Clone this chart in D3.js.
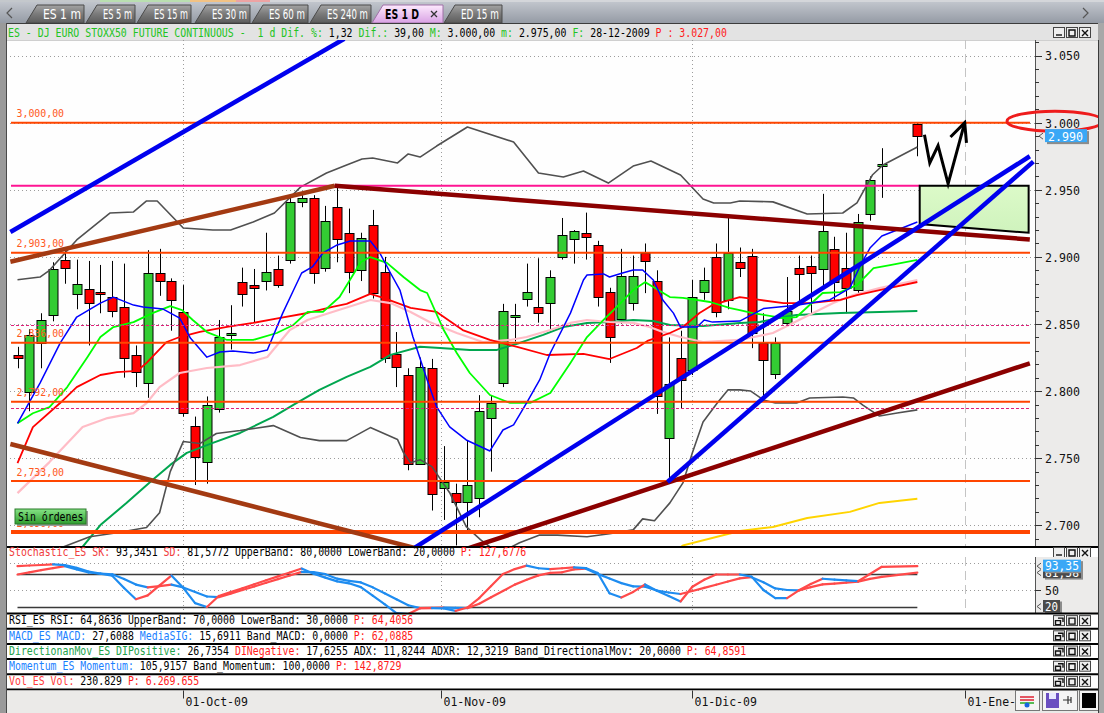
<!DOCTYPE html>
<html><head><meta charset="utf-8">
<script src="https://d3js.org/d3.v7.min.js"></script>
<style>html,body{margin:0;padding:0;background:#fff;overflow:hidden}svg{display:block}text{white-space:pre}</style>
</head><body>
<svg id="chart" width="1104" height="713"></svg>
<script>
// ================= DATA =================
// slot = weekday index (0 = 11-Sep-2009); slots 74,75 = holidays (no bars)
const candleSlot=[0,1,2,3,4,5,6,7,8,9,10,11,12,13,14,15,16,17,18,19,20,21,22,23,24,25,26,27,28,29,30,31,32,33,34,35,36,37,38,39,40,41,42,43,44,45,46,47,48,49,50,51,52,53,54,55,56,57,58,59,60,61,62,63,64,65,66,67,68,69,70,71,72,73,76];
const candleOpen =[2827,2799,2836,2857,2898,2872,2876,2874,2870,2863,2827,2806,2888,2882,2859,2774,2747,2787,2842,2881,2879,2882,2891,2898,2941,2944,2892,2937,2918,2890,2924,2889,2828,2812,2746,2817,2728,2724,2717,2720,2780,2806,2856,2869,2863,2866,2900,2913,2918,2909,2874,2854,2866,2903,2882,2765,2825,2816,2874,2900,2868,2896,2901,2836,2813,2851,2892,2893,2891,2906,2892,2875,2932,2968,2999];
const candleHigh =[2833,2846,2858,2896,2905,2898,2897,2894,2897,2895,2834,2905,2906,2884,2879,2781,2796,2853,2864,2892,2891,2918,2901,2944,2946,2946,2938,2952,2936,2918,2935,2900,2844,2817,2825,2824,2759,2731,2763,2797,2797,2865,2865,2895,2899,2890,2929,2920,2933,2912,2877,2906,2901,2910,2890,2840,2845,2883,2892,2910,2929,2907,2906,2858,2840,2885,2901,2901,2947,2915,2918,2932,2960,2981,3000];
const candleLow  =[2817,2785,2817,2852,2880,2861,2834,2858,2855,2810,2803,2795,2871,2845,2781,2730,2731,2784,2831,2863,2851,2875,2877,2895,2937,2880,2889,2896,2873,2882,2869,2821,2803,2741,2745,2711,2704,2685,2694,2706,2740,2803,2837,2863,2851,2845,2898,2895,2898,2863,2821,2850,2860,2873,2783,2732,2787,2812,2868,2855,2861,2885,2832,2792,2809,2849,2866,2858,2876,2867,2858,2872,2927,2944,2975];
const candleClose=[2825,2842,2853,2891,2892,2880,2866,2873,2860,2825,2814,2888,2882,2868,2784,2751,2790,2840,2843,2872,2877,2889,2879,2941,2944,2888,2927,2913,2889,2914,2873,2825,2818,2746,2818,2723,2732,2717,2730,2785,2791,2860,2857,2874,2858,2885,2916,2919,2915,2870,2840,2886,2886,2897,2796,2805,2808,2870,2883,2859,2903,2892,2843,2823,2836,2860,2887,2888,2919,2881,2877,2926,2957,2969,2990];

// Indicators on price panel: [slot, price]
const bollUpper=[[0,2883],[1.9,2885],[2.7,2890],[5,2912.6],[7.8,2932.7],[9.8,2933.5],[10.9,2941.7],[11.8,2941.7],[14,2921.5],[16.5,2920],[18,2920],[19.9,2926],[21.7,2932.7],[23.9,2952],[26.1,2962.5],[27.8,2968.5],[29.1,2973],[30,2973.7],[32.1,2970],[33,2976.7],[34,2974.4],[35.4,2982.6],[38,2996.8],[41.9,2985.6],[44,2962.5],[46.1,2959.5],[47.8,2964],[49.9,2955],[52,2967.7],[53.5,2971.5],[56,2961],[57.9,2943.1],[58.8,2940.2],[60.2,2940.2],[61,2941.7],[63.8,2941],[66.7,2932],[69.7,2932.7],[70.9,2940.2],[72.2,2961],[73.1,2968.5],[76,2981.9]];
const bollLower=[[2.5,2672],[3.9,2684],[6.1,2691.5],[8.4,2694.5],[10.9,2698.3],[12,2709.4],[12.9,2740],[14,2762.4],[15.4,2760.9],[16.8,2768.4],[18.8,2770.6],[21.6,2774.3],[23.9,2765.4],[25.5,2763.1],[27.8,2763.1],[29.8,2772.8],[32.1,2763.9],[32.6,2754.2],[33.2,2746.6],[34,2748.9],[35,2743.7],[36.5,2724.3],[37.9,2699],[39.1,2689.3],[39.9,2684],[41.3,2682],[42.4,2687],[44.1,2692.7],[45.6,2692.7],[48.1,2691.5],[50,2693.7],[52,2696.6],[52.8,2704.8],[53.8,2703.4],[55.1,2716.7],[56.2,2731.6],[57,2754],[57.9,2777],[59.1,2791.2],[60,2800.9],[61,2800.9],[61.9,2800.1],[63,2793.4],[64,2791.2],[65.8,2791.2],[66.9,2794.9],[69.7,2795.6],[70.6,2794.9],[71.4,2789.6],[72.8,2781.4],[74.3,2783.7],[76,2786]];
const maBlue=[[0,2776],[1.9,2806],[3.6,2835.8],[5,2855.2],[7,2865.6],[8.1,2870],[9.8,2864.1],[10.6,2862.6],[12.3,2861.1],[13.7,2854.4],[14.6,2839.5],[16,2825.3],[17.1,2829.1],[18.2,2829.8],[19.9,2828.3],[21.1,2830.6],[22.4,2858.1],[23.4,2876.8],[24,2888],[24.9,2892.5],[25.8,2902.9],[27,2908.9],[28.1,2911.8],[29.8,2911.8],[30.6,2902.9],[31.5,2888],[32.3,2875.3],[33.4,2840.3],[34.6,2808.3],[35.4,2788.2],[36.5,2773.3],[37.9,2763.6],[39.9,2755.4],[41,2771],[41.9,2774.8],[43,2791.2],[44.1,2808.3],[45,2828.4],[46.7,2858.1],[47.8,2882.8],[48.1,2886.5],[49.5,2887.3],[50,2885],[51.1,2888],[52,2890.2],[52.8,2890.2],[53.7,2882.8],[54.5,2867.9],[55.4,2858.1],[56,2847.7],[57.4,2847.7],[58,2853],[58.7,2851.4],[61,2852.2],[63,2861.5],[65.8,2864],[68.6,2867.9],[70.3,2876.8],[71.2,2893.9],[72,2906.6],[73,2915.6],[76,2926]];
const maGreen=[[0,2776],[1.3,2783.5],[2.7,2788],[4.2,2803],[5.9,2825.3],[7,2840.3],[8.1,2847.7],[9.8,2851.4],[11.4,2858.1],[12.9,2863.3],[13.9,2860.4],[14.8,2853],[16,2844],[17.7,2838.1],[19.9,2838.1],[21.9,2843.3],[23.3,2849.3],[24.5,2859],[25.8,2859],[27.2,2870.1],[29,2896.2],[29.8,2899.9],[31.2,2895.5],[32.6,2885],[34,2875.3],[34.6,2873.1],[36,2845.5],[37.1,2828.4],[38.2,2813.5],[39.9,2797.1],[41.6,2791.2],[43.3,2791.2],[45,2798.6],[46.7,2821],[48.1,2840.3],[49.5,2853],[50.6,2862.6],[52,2875.3],[53,2881.2],[53.7,2877.5],[55.1,2870.1],[56.2,2869.4],[58.5,2866.4],[60.2,2861.9],[61,2860.4],[62.1,2858.1],[64.7,2854.4],[65.8,2855.2],[68,2873.1],[69.5,2873.8],[70.9,2879],[72.3,2891.7],[73.7,2893.9],[76,2897.7]];
const maRed=[[0,2746.3],[1.3,2773.2],[3.6,2791.1],[5,2803],[7,2812],[8.4,2814.2],[10.1,2815],[10.9,2821],[12.6,2836.6],[13.7,2840.3],[15.4,2844.1],[17.7,2847.8],[19.9,2850.8],[22.2,2854.5],[24.5,2858.2],[26.6,2862.7],[27.8,2865],[29.8,2872.4],[30.9,2869.4],[33.2,2862],[35.4,2859],[37.6,2845.5],[39.9,2838.1],[42.2,2832.9],[44.7,2826.9],[47.8,2827.7],[50,2823.9],[52.3,2832.1],[53.2,2837.4],[55.1,2843.3],[56.2,2847.8],[57.6,2858.2],[58.7,2864.2],[61,2870.1],[62.7,2867.9],[64.7,2865.6],[66.9,2865.6],[69.5,2867.9],[70.9,2871.6],[72.8,2875.3],[76,2881.3]];
const maPink=[[0,2724],[2.7,2747.1],[5.5,2773.2],[7.6,2779.9],[9.8,2783.6],[10.9,2791.1],[12,2803],[13.7,2813.5],[16,2817.2],[18.8,2819.4],[21.1,2825.4],[23,2845.5],[24.5,2853],[26.6,2859],[29.8,2867.9],[31.5,2865.6],[33.2,2859],[34.8,2851.5],[37.1,2843.3],[39.3,2836.6],[41.6,2838.1],[43,2840.3],[45,2845.5],[46.7,2850.8],[48.1,2853],[50,2851.5],[52,2850.8],[53.4,2847.8],[54.5,2844.1],[56,2840.3],[57.9,2836.6],[61,2838.1],[63.8,2843.3],[65.5,2850.8],[67.2,2858.2],[68.9,2865.6],[70.6,2871.6],[72.8,2876.8],[76,2882.8]];
const maDarkGreen=[[5,2680],[5.5,2684],[7,2700.2],[9.2,2716.6],[11.4,2733.8],[12.9,2745],[14.3,2754],[16.5,2761.4],[18.8,2768.8],[21.6,2780.8],[23.3,2789.7],[25.5,2800.9],[27.8,2810.6],[29.8,2818.1],[31.5,2827],[34,2833],[35.7,2832.2],[38.2,2830.7],[40.5,2830.7],[42.4,2835.9],[44.4,2841.9],[46.1,2847.8],[48.1,2850.8],[50,2851.5],[52,2853],[53.7,2852.3],[55.1,2849.3],[57.9,2848.5],[61,2850.8],[62.7,2851.5],[64.7,2855.2],[65.8,2856.7],[69.5,2858.2],[72.8,2859],[76,2859.7]];
const maYellow=[[55.5,2680],[56.2,2685],[61,2695.8],[63.8,2698.8],[66.7,2705.5],[70.3,2710],[72.8,2716.7],[76,2719.7]];

// Stochastic per slot (null = holiday)
const stochK=[93.5,94.5,95.5,96.5,95.3,90.4,83.5,79.7,75.9,53.7,33.3,40.2,58.3,76.3,53.9,26.1,19.1,39.1,46.2,53.3,60.4,67.6,74.7,81.8,89,79.7,72.5,65.6,62.2,55.2,39.9,24.4,7.8,6.2,17,17,16.6,12.1,18.2,35.3,57.1,79,88,94.3,89.5,88,89.5,91,89.8,81,44,36.5,46.5,60,48.8,39,29.2,56,68.7,78.2,78.2,78.2,74.3,50,35.3,35.3,49.4,61,70.5,69,67.5,66,79,92.2,null,null,93.3];
const stochD=[78.2,82,86,89.7,93.5,87.5,81.8,79.6,78.5,70,59.8,54.7,57.2,59.8,54.7,46.5,38.2,37,43.5,49.9,56.4,63.1,69.7,76.3,83,82.6,78.8,70.6,66.7,63.8,54.8,43.9,33,22.2,17,17.6,18.2,17.6,17.1,25.1,36.7,48.3,59.8,68.5,76.6,81.2,82.2,87.4,88.8,79.3,70.8,62.5,56.7,56,49,45.4,42.7,48.2,53.9,59.6,65.4,71.1,73.3,64.1,52.8,50,49.4,55.2,60.1,61.7,63.3,65.2,70.3,73.9,null,null,81.6];
const stochBands=[80,20];
const stochLast={k:93.35,d:81.58};

// Horizontal levels drawn by the user
const levelPrices=[3000,2903,2836,2792,2733,2695];
const levelLabels=["3,000,00","2,903,00","2,836,00","2,792,00","2,733,00","2,696,00"];
const levelWidths=[2,2,2,2,2,4];
const pinkLevel=2953;            // solid magenta, ends at slot 76.2
const pinkDashed=[2849.3,2787.2,2684.8];

// Trend lines [slot, price]
const trendBlue=[[[-0.6,2918.6],[27.6,3062.5]],[[33.5,2683],[85.5,2975]],[[54.9,2732.3],[85.8,2971]]];
const trendBrown=[[[-0.6,2896.4],[26.8,2953]],[[-0.6,2760.6],[35.8,2678]]];
const trendMaroon=[[[26.8,2953],[85.5,2913]],[[37.5,2681.2],[85.5,2820.7]]];
const targetBox=[[76.2,2953],[85.4,2953],[85.4,2918],[76.2,2924.5]];
const scenarioPath=[[76.6,2991],[77.05,2970],[77.75,2983],[78.6,2954.5],[80.0,3000]];
const scenarioHead=[[78.8,2989.3],[80.0,3000],[80.15,2985]];

// Axes
const priceTicks=[2700,2750,2800,2850,2900,2950,3000,3050];
const lastClose=2990;
const dateSlots=[14,35.77,57,80];
const dateLabels=["01-Oct-09","01-Nov-09","01-Dic-09","01-Ene-10"];
const tabNames=["ES 1 m","ES 5 m","ES 15 m","ES 30 m","ES 60 m","ES 240 m","ES 1 D","ED 15 m"];

// ================= DRAW =================
const svg=d3.select('#chart');
const defs=svg.append('defs');
function lg(id,stops){const g=defs.append('linearGradient').attr('id',id).attr('x1',0).attr('y1',0).attr('x2',0).attr('y2',1);stops.forEach(s=>g.append('stop').attr('offset',s[0]).attr('stop-color',s[1]));}
lg('tabBar',[[0,'#c5c9d0'],[1,'#959ba5']]);
lg('tabG',[[0,'#a4a4a4'],[0.5,'#7a7a7a'],[1,'#5c5c5c']]);
lg('tabA',[[0,'#fdeafd'],[1,'#d9a2e4']]);
lg('btnG',[[0,'#86e486'],[1,'#2f9d2f']]);
lg('boxG',[[0,'#dcfac8'],[1,'#cff3bd']]);

function fitText(parent,x0,yb,segs,width,opt){
  opt=opt||{};
  const t=parent.append('text').attr('x',0).attr('y',0)
    .attr('font-family',opt.family||'DejaVu Sans Mono').attr('font-size',opt.size||12)
    .style('white-space','pre');
  if(opt.weight)t.attr('font-weight',opt.weight);
  segs.forEach(s=>t.append('tspan').attr('fill',s[1]).text(s[0]));
  const w=t.node().getComputedTextLength()||1;
  const sx=width?width/w:1;
  t.attr('transform','translate('+x0+','+yb+') scale('+sx+',1)');
  return t;
}
function mono(parent,x0,yb,segs,cw,size){const n=segs.reduce((a,s)=>a+s[0].length,0);return fitText(parent,x0,yb,segs,n*cw,{size:size||12});}

svg.append('rect').attr('width',1104).attr('height',713).attr('fill','#ffffff');

// ---- scales
const x=d3.scaleLinear().domain([0,80]).range([17.5,17.5+80*11.84]);
const y=d3.scaleLinear().domain([2700,3000]).range([525.3,122.7]);
const yS=d3.scaleLinear().domain([20,80]).range([606.5,573.5]);
const PL=8,PR=1035,PT=40,PB=546;

// ---- tab bar
svg.append('rect').attr('x',0).attr('y',0).attr('width',1104).attr('height',23).attr('fill','url(#tabBar)');
[[0,100,'#c4c8cc'],[100,190,'#b9dfb0'],[190,236,'#f2c284'],[236,270,'#eda3a3'],[270,1104,'#d4d6da']].forEach(s=>svg.append('rect').attr('x',s[0]).attr('y',0).attr('width',s[1]-s[0]).attr('height',2).attr('fill',s[2]));
svg.append('path').attr('d','M12,8 L7,13 L12,18').attr('fill','none').attr('stroke','#555').attr('stroke-width',1.2);
svg.append('path').attr('d','M1083,8 L1088,13 L1083,18').attr('fill','none').attr('stroke','#555').attr('stroke-width',1.2);
const tabX=[[26,84],[86,135],[137,191],[195,250],[252,308],[310,371],[372,443],[444,502]];
tabNames.forEach((n,i)=>{
  const a=tabX[i][0],b=tabX[i][1],act=(n==='ES 1 D');
  svg.append('path').attr('d',`M${a},23 L${a+11},5 L${b},5 L${b},23 Z`).attr('fill',act?'url(#tabA)':'url(#tabG)').attr('stroke',act?'#a070a8':'#4a4a4a').attr('stroke-width',1);
  const w=act?34:(b-a-20);
  fitText(svg,a+(act?13:17),18.5,[[n,act?'#000':'#fff']],w,{family:'DejaVu Sans',size:13.5,weight:act?'bold':'normal'});
  if(act){svg.append('path').attr('d','M431,11 L437,17 M437,11 L431,17').attr('stroke','#333').attr('stroke-width',1.3);}
});

// ---- header row
svg.append('rect').attr('x',0).attr('y',23).attr('width',1104).attr('height',17).attr('fill','#e3e3e3');
svg.append('line').attr('x1',0).attr('x2',1104).attr('y1',23.5).attr('y2',23.5).attr('stroke','#3c3c3c');
const G='#22c322',K='#000',R='#ff1a1a',B='#1a7fff';
mono(svg,8,37,[["ES - DJ EURO STOXX50 FUTURE CONTINUOUS -  1 d Dif. %: ",G],["1,32 ",K],["Dif.: ",G],["39,00 ",K],["M: ",G],["3.000,00 ",K],["m: ",G],["2.975,00 ",K],["F: ",G],["28-12-2009 ",K],["P : 3.027,00",R]],5.95,12.5);

function winBtns(yc,kind){
  [1053,1066,1079].forEach((bx,i)=>{
    svg.append('rect').attr('x',bx+0.5).attr('y',yc-5.5).attr('width',11).attr('height',10).attr('fill','#eeeeee').attr('stroke','#444');
    let d;
    if(i===0) d= kind==='min'?`M${bx+3},${yc+2} h6`:`M${bx+5},${yc-3} h5 v4 M${bx+2.5},${yc-0.5} h5 v4 h-5 z`;
    else if(i===1) d=`M${bx+3},${yc-3} h6 v6 h-6 z`;
    else d=`M${bx+3},${yc-3} L${bx+9},${yc+3} M${bx+9},${yc-3} L${bx+3},${yc+3}`;
    svg.append('path').attr('d',d).attr('fill','none').attr('stroke','#111').attr('stroke-width',1.4);
  });
}
winBtns(33,'min');

// ---- main panel
svg.append('rect').attr('x',6).attr('y',PT).attr('width',PR-6).attr('height',PB-PT).attr('fill','#fefefe');
svg.append('rect').attr('x',PR).attr('y',PT).attr('width',1098-PR).attr('height',PB-PT).attr('fill','#ecebea');
svg.append('line').attr('x1',6).attr('x2',1098).attr('y1',PT+0.5).attr('y2',PT+0.5).attr('stroke','#cfcfcf');
defs.append('clipPath').attr('id','clipMain').append('rect').attr('x',PL).attr('y',PT).attr('width',PR-PL).attr('height',PB-PT);
const gM=svg.append('g').attr('clip-path','url(#clipMain)');

priceTicks.forEach(v=>gM.append('line').attr('x1',10).attr('x2',PR).attr('y1',Math.round(y(v))+0.5).attr('y2',Math.round(y(v))+0.5).attr('stroke','#9c9c9c').attr('stroke-dasharray','1,3'));
dateSlots.forEach((s,i)=>gM.append('line').attr('x1',Math.round(x(s))+0.5).attr('x2',Math.round(x(s))+0.5).attr('y1',PT).attr('y2',PB)
  .attr('stroke',i===3?'#c4c4c4':'#9c9c9c').attr('stroke-dasharray',i===3?'9,5':'1,3'));

// candles
candleSlot.forEach((s,i)=>{
  const o=candleOpen[i],c=candleClose[i],h=candleHigh[i],l=candleLow[i];
  const cx=Math.round(x(s))+0.5;
  gM.append('line').attr('x1',cx).attr('x2',cx).attr('y1',y(h)).attr('y2',y(l)).attr('stroke','#000').attr('stroke-width',1);
  const top=Math.round(y(Math.max(o,c)))+0.5,bot=Math.round(y(Math.min(o,c)))+0.5;
  gM.append('rect').attr('x',cx-4.5).attr('y',top).attr('width',9).attr('height',Math.max(2,bot-top))
    .attr('fill',c>=o?'#33cc33':'#ff0000').attr('stroke','#000').attr('stroke-width',1);
});

// indicator lines
const ln=d3.line().x(d=>x(d[0])).y(d=>y(d[1]));
function drawSeries(data,color,w){gM.append('path').attr('d',ln(data)).attr('fill','none').attr('stroke',color).attr('stroke-width',w).attr('stroke-linejoin','round');}
drawSeries(maYellow,'#ffd400',2);
drawSeries(maDarkGreen,'#00a64f',2);
drawSeries(maPink,'#ffbcc6',2.2);
drawSeries(maRed,'#ff0000',1.8);
drawSeries(maGreen,'#00ff00',1.8);
drawSeries(bollUpper,'#505050',1.6);
drawSeries(bollLower,'#505050',1.6);
drawSeries(maBlue,'#0000ff',1.5);

// horizontal levels
levelPrices.forEach((v,i)=>{
  gM.append('line').attr('x1',11).attr('x2',1030).attr('y1',y(v)).attr('y2',y(v)).attr('stroke','#ff4500').attr('stroke-width',levelWidths[i]);
  mono(gM,16.5,y(v)-5.5,[[levelLabels[i],'#ff5a1e']],5.95,11);
});
gM.append('line').attr('x1',11).attr('x2',x(76.2)).attr('y1',y(pinkLevel)).attr('y2',y(pinkLevel)).attr('stroke','#ff1493').attr('stroke-width',2);
pinkDashed.forEach(v=>gM.append('line').attr('x1',11).attr('x2',1029).attr('y1',Math.round(y(v))+0.5).attr('y2',Math.round(y(v))+0.5).attr('stroke','#e0207a').attr('stroke-dasharray','3,2').attr('stroke-width',1));

// target box
gM.append('path').attr('d',d3.line().x(d=>x(d[0])).y(d=>y(d[1]))(targetBox)+'Z').attr('fill','url(#boxG)').attr('stroke','#000').attr('stroke-width',2);

// trend lines
const seg=d3.line().x(d=>x(d[0])).y(d=>y(d[1]));
trendBrown.forEach(t=>gM.append('path').attr('d',seg(t)).attr('stroke','#a33a12').attr('stroke-width',4.5).attr('fill','none'));
trendMaroon.forEach(t=>gM.append('path').attr('d',seg(t)).attr('stroke','#8b0000').attr('stroke-width',4.5).attr('fill','none'));
trendBlue.forEach(t=>gM.append('path').attr('d',seg(t)).attr('stroke','#0000ee').attr('stroke-width',4.5).attr('fill','none'));

// scenario arrow
gM.append('path').attr('d',seg(scenarioPath)).attr('stroke','#000').attr('stroke-width',3).attr('fill','none').attr('stroke-linejoin','miter');
gM.append('path').attr('d',seg(scenarioHead)).attr('stroke','#000').attr('stroke-width',3).attr('fill','none');

// Sin órdenes button
svg.append('rect').attr('x',17).attr('y',511).attr('width',71).attr('height',15).attr('fill','#9a9a9a');
svg.append('rect').attr('x',15).attr('y',509).attr('width',71).attr('height',15).attr('fill','url(#btnG)').attr('stroke','#2a7a2a');
mono(svg,18,521,[["Sin órdenes",'#000']],5.95,12);

// right price axis
svg.append('line').attr('x1',PR+0.5).attr('x2',PR+0.5).attr('y1',PT).attr('y2',PB).attr('stroke','#555');
d3.range(2690,3061,10).forEach(v=>{const yy=Math.round(y(v))+0.5;if(yy<PT||yy>PB)return;const maj=(v%50===0);
  svg.append('line').attr('x1',PR).attr('x2',PR+(maj?7:4)).attr('y1',yy).attr('y2',yy).attr('stroke','#333');});
priceTicks.forEach(v=>{const s=Math.floor(v/1000)+'.'+String(v%1000).padStart(3,'0');fitText(svg,1045,y(v)+4.8,[[s,'#111']],35,{size:13});});
svg.append('ellipse').attr('cx',1055).attr('cy',y(3000)-1.5).attr('rx',48).attr('ry',10).attr('fill','none').attr('stroke','#ee1c1c').attr('stroke-width',3);
// last price marker
const lp=y(lastClose);
svg.append('rect').attr('x',1047).attr('y',lp-5).attr('width',42).attr('height',13).attr('fill','#8c8c8c');
svg.append('rect').attr('x',1045).attr('y',lp-7).attr('width',42).attr('height',13).attr('fill','#3aa8f6');
fitText(svg,1048,lp+4.5,[[Math.floor(lastClose/1000)+'.'+String(lastClose%1000).padStart(3,'0'),'#fff']],35,{size:13});
svg.append('path').attr('d',`M1043,${lp-3} L1039,${lp} L1043,${lp+3}`).attr('fill','none').attr('stroke','#555');

// panel separator
svg.append('line').attr('x1',6).attr('x2',1098).attr('y1',PB+1).attr('y2',PB+1).attr('stroke','#000').attr('stroke-width',2);

// ---- stochastic panel
const ST=557,SB=613.5;
mono(svg,9,555.5,[["Stochastic_ES SK: ",'#f03c3c'],["93,3451 ",K],["SD: ",'#f03c3c'],["81,5772 UpperBand: 80,0000 LowerBand: 20,0000 ",K],["P: 127,6776",R]],5.95,12);
winBtns(553,'min');
svg.append('rect').attr('x',PR).attr('y',ST).attr('width',1098-PR).attr('height',SB-ST).attr('fill','#ecebea');
svg.append('line').attr('x1',PR+0.5).attr('x2',PR+0.5).attr('y1',ST).attr('y2',SB).attr('stroke','#555');
defs.append('clipPath').attr('id','clipS').append('rect').attr('x',PL).attr('y',ST).attr('width',PR-PL).attr('height',SB-ST);
const gS=svg.append('g').attr('clip-path','url(#clipS)');
[100,50].forEach(v=>gS.append('line').attr('x1',10).attr('x2',PR).attr('y1',Math.round(yS(v))+0.5).attr('y2',Math.round(yS(v))+0.5).attr('stroke','#9c9c9c').attr('stroke-dasharray','1,3'));
dateSlots.forEach((s,i)=>gS.append('line').attr('x1',Math.round(x(s))+0.5).attr('x2',Math.round(x(s))+0.5).attr('y1',ST).attr('y2',SB)
  .attr('stroke',i===3?'#c4c4c4':'#9c9c9c').attr('stroke-dasharray',i===3?'9,5':'1,3'));
stochBands.forEach(v=>gS.append('line').attr('x1',x(0)).attr('x2',x(76)).attr('y1',Math.round(yS(v))+0.5).attr('y2',Math.round(yS(v))+0.5).attr('stroke','#3a3a3a').attr('stroke-width',1.3));
function stochLine(arr){
  const pts=arr.map((v,i)=>[i,v]).filter(p=>p[1]!==null);
  let col='#ff4a4a';
  for(let i=1;i<pts.length;i++){
    const a=pts[i-1],b=pts[i];
    if(b[1]>a[1])col='#ff4a4a';else if(b[1]<a[1])col='#1e8cf0';
    gS.append('line').attr('x1',x(a[0])).attr('y1',yS(a[1])).attr('x2',x(b[0])).attr('y2',yS(b[1])).attr('stroke',col).attr('stroke-width',2.2).attr('stroke-linecap','round');
  }
}
stochLine(stochD);
stochLine(stochK);
// stoch right axis
svg.append('line').attr('x1',PR).attr('x2',PR+6).attr('y1',Math.round(yS(50))+0.5).attr('y2',Math.round(yS(50))+0.5).attr('stroke','#333');
fitText(svg,1045,yS(50)+4.5,[["50",'#111']],14,{size:13});
function stochBox(v,txt,fill){const yy=yS(v);
  svg.append('rect').attr('x',1045).attr('y',yy-5).attr('width',txt.length*7+3).attr('height',12).attr('fill','#8c8c8c');
  svg.append('rect').attr('x',1043).attr('y',yy-6.5).attr('width',txt.length*7+3).attr('height',12).attr('fill',fill);
  fitText(svg,1045,yy+4,[[txt,'#fff']],txt.length*7-1,{size:13});
  svg.append('path').attr('d',`M1041,${yy-3} L1037,${yy} L1041,${yy+3}`).attr('fill','none').attr('stroke','#555');}
stochBox(20,'20','#4a4a4a');
stochBox(stochLast.d,String(stochLast.d.toFixed(2)).replace('.',','),'#4a4a4a');
stochBox(stochLast.k,String(stochLast.k.toFixed(2)).replace('.',','),'#3aa8f6');

// ---- collapsed indicator rows
const rowTop=[613.5,628.7,643.9,659.1,674.3];
const rowSegs=[
  [["RSI_ES RSI: ",K],["64,8636 UpperBand: 70,0000 LowerBand: 30,0000 ",K],["P: 64,4056",R]],
  [["MACD_ES MACD: ",B],["27,6088 ",K],["MediaSIG: ",B],["15,6911 Band_MACD: 0,0000 ",K],["P: 62,0885",R]],
  [["DirectionanMov_ES DIPositive: ",'#22a24a'],["26,7354 ",K],["DINegative: ",R],["17,6255 ADX: 11,8244 ADXR: 12,3219 Band_DirectionalMov: 20,0000 ",K],["P: 64,8591",R]],
  [["Momentum_ES Momentum: ",B],["105,9157 Band_Momentum: 100,0000 ",K],["P: 142,8729",R]],
  [["Vol_ES Vol: ",'#ff3a3a'],["230.829 ",K],["P: 6.269.655",R]]
];
rowTop.forEach((t,i)=>{
  svg.append('line').attr('x1',6).attr('x2',1098).attr('y1',t).attr('y2',t).attr('stroke','#000').attr('stroke-width',2);
  winBtns(t+7.6,'restore');
});
rowTop.forEach((t,i)=>mono(svg,9,t+10.8,rowSegs[i],5.95,12));
const AX=689.5;
svg.append('line').attr('x1',6).attr('x2',1098).attr('y1',AX).attr('y2',AX).attr('stroke','#000').attr('stroke-width',2);

// ---- time axis
svg.append('rect').attr('x',6).attr('y',AX+1).attr('width',1092).attr('height',713-AX-1).attr('fill','#ebeae8');
dateSlots.forEach((s,i)=>{const xx=Math.round(x(s))+0.5;
  svg.append('line').attr('x1',xx).attr('x2',xx).attr('y1',AX+1).attr('y2',AX+9).attr('stroke','#333');
  fitText(svg,xx+2,AX+16,[[dateLabels[i],'#111']],62.5,{size:13});
});
// bottom-right icons
svg.append('rect').attr('x',1015.5).attr('y',690.5).attr('width',24).attr('height',20).attr('fill','#f4f4f4').attr('stroke','#777');
svg.append('path').attr('d','M1020,697 h14 M1020,700 h14').attr('stroke','#d23').attr('stroke-width',1.5);
svg.append('path').attr('d','M1020,703 h14').attr('stroke','#2a2').attr('stroke-width',1.5);
svg.append('circle').attr('cx',1027).attr('cy',705).attr('r',2.5).attr('fill','#1565e0');
svg.append('rect').attr('x',1042.5).attr('y',690.5).attr('width',35).attr('height',20).attr('fill','#f4f4f4').attr('stroke','#777');
svg.append('rect').attr('x',1046).attr('y',693).attr('width',13).attr('height',15).attr('fill','#6a4fc0');
svg.append('rect').attr('x',1049).attr('y',693).attr('width',7).attr('height',6).attr('fill','#e8e8ff');
svg.append('path').attr('d','M1063,700 h8 M1068,696 v8 M1071,697 v6').attr('stroke','#333').attr('stroke-width',1.2);
svg.append('rect').attr('x',1079.5).attr('y',690.5).attr('width',19).attr('height',20).attr('fill','#f4f4f4').attr('stroke','#777');
svg.append('rect').attr('x',1082).attr('y',693).attr('width',14).attr('height',15).attr('fill','#000');

// ---- window frame
svg.append('rect').attr('x',0).attr('y',23).attr('width',6).attr('height',690).attr('fill','#9a9a9a');
svg.append('line').attr('x1',6.5).attr('x2',6.5).attr('y1',23).attr('y2',713).attr('stroke','#4a4a4a');
svg.append('rect').attr('x',1098).attr('y',23).attr('width',6).attr('height',690).attr('fill','#a8a8a8');
svg.append('line').attr('x1',1098.5).attr('x2',1098.5).attr('y1',40).attr('y2',713).attr('stroke','#3a3a3a');
</script></body></html>
